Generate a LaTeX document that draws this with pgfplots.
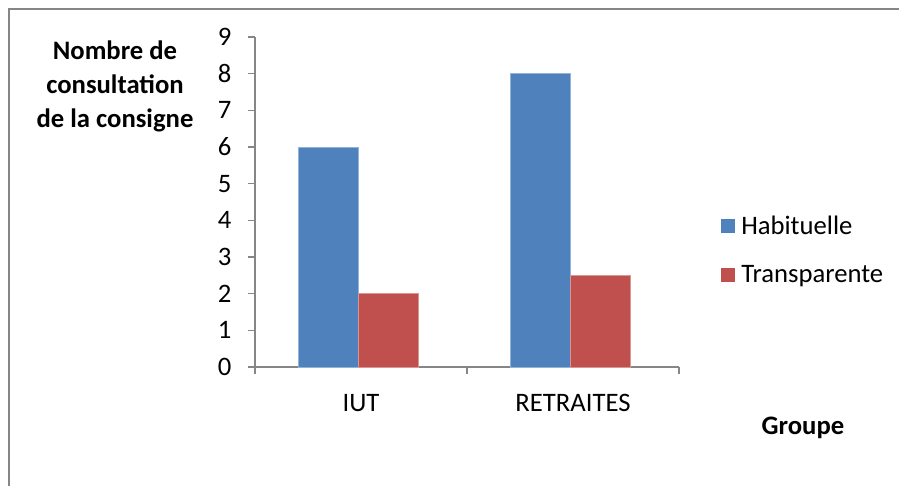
\documentclass[border=0pt]{standalone}
\usepackage{pgfplots}
\pgfplotsset{compat=1.18}
\usepackage{fontspec}
\setmainfont{Carlito}
\definecolor{habblue}{RGB}{79,129,189}
\definecolor{transred}{RGB}{192,80,77}
\definecolor{axisgray}{RGB}{134,134,134}

\begin{document}
\begin{tikzpicture}[x=0.75pt,y=0.75pt]
% one unit = one pixel of the reference, origin at the axis corner
\useasboundingbox (-255,-119) rectangle (644,367);
\draw[axisgray, line width=1.5pt] (-246,-119) -- (-246,358) -- (644,358);
\begin{axis}[
  at={(0pt,0pt)}, anchor=south west,
  width=318pt, height=247.5pt, scale only axis,
  xmin=-0.5, xmax=1.5, ymin=0, ymax=9,
  ybar=0pt, bar width=45pt,
  axis x line=bottom, axis y line=left,
  axis line style={axisgray, line width=0.8pt, -},
  tick align=outside, major tick length=5.25pt,
  tick style={axisgray, line width=0.8pt},
  ytick={0,...,9},
  yticklabel style={xshift=-9pt},
  xtick={-0.5,0.5,1.5}, xticklabels={},
  extra x ticks={0,1}, extra x tick labels={IUT,RETRAITES},
  extra x tick style={major tick length=0pt, xticklabel style={yshift=-17pt}},
  every tick label/.append style={font=\fontsize{20}{24}\selectfont, black},
  /pgf/number format/assume math mode=true,
  legend style={at={(1.088,0.354)}, anchor=west, draw=none, fill=none,
    font=\fontsize{20}{24}\selectfont, row sep=17.5pt},
  legend cell align=left,
  legend image code/.code={\fill[#1, draw=none] (0pt,-5.25pt) rectangle (10.5pt,5.25pt);
    \path[draw=none, fill=none] (0pt,0pt) -- (13.5pt,0pt);},
]
\addplot[fill=habblue, draw=habblue!60!white, line width=0.4pt, bar shift=-24.4pt]
  coordinates {(0,6) (1,8)};
\addplot[fill=transred, draw=transred!60!white, line width=0.4pt, bar shift=20.6pt]
  coordinates {(0,2) (1,2.5)};
\legend{Habituelle, Transparente}
\end{axis}
\node[align=center, font=\fontsize{20}{25.5}\selectfont\bfseries]
  at (-140,281) {Nombre de\\consultation\\de la consigne};
\node[font=\fontsize{20}{24}\selectfont\bfseries] at (548,-61) {Groupe};
\end{tikzpicture}
\end{document}
